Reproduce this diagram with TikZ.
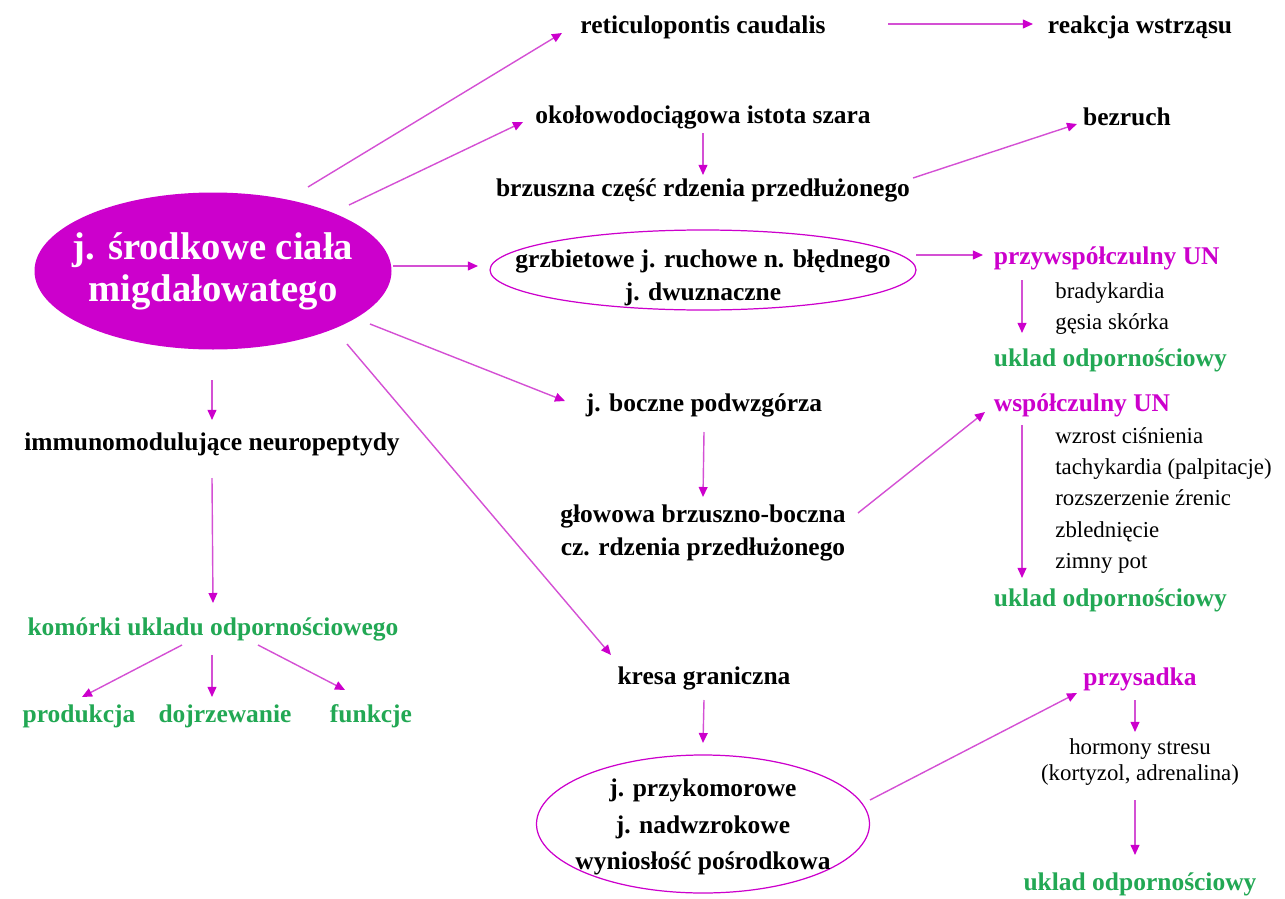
\documentclass[tikz,border=0pt]{standalone}
\usepackage{fontspec}
\setmainfont{Liberation Serif}
\usetikzlibrary{calc, positioning, arrows.meta, shapes.geometric}
\definecolor{mag}{RGB}{204,0,204}
\definecolor{magline}{RGB}{212,80,212}
\definecolor{grn}{RGB}{34,168,84}

\begin{document}
\begin{tikzpicture}[x=0.02cm, y=-0.02cm,
  lbl/.style={font=\fontsize{14.5}{18.7}\selectfont\bfseries, inner sep=2pt, align=center},
  sym/.style={font=\fontsize{13}{17.8}\selectfont, inner sep=0pt, align=left, anchor=west},
  imm/.style={lbl, text=grn},
  un/.style={lbl, text=mag},
  arr/.style={draw=magline, line width=0.8pt, -{Triangle[length=5.7pt,width=5pt,color=mag]}},
  oval/.style={draw=mag, line width=0.7pt}]
\useasboundingbox (0,0) rectangle (1285,899);

% Amygdala
\fill[mag] (213,271) ellipse [x radius=178.5, y radius=78.5];
\node[text=white, align=center, font=\fontsize{22}{24}\selectfont\bfseries]
  (amyg) at (213,271) {j. środkowe ciała\\migdałowatego};

% Top branches
\node[lbl] (reti) at (703,27) {reticulopontis caudalis};
\node[lbl] (reak) at (1140,27) {reakcja wstrząsu};
\node[lbl] (okol) at (703,117) {okołowodociągowa istota szara};
\node[lbl] (bezr) at (1127,117) {bezruch};
\node[lbl] (brzu) at (703,190) {brzuszna część rdzenia przedłużonego};
\draw[arr] ($(amyg)+(95,-84)$) -- ($(reti)+(-141,6)$);
\draw[arr] ($(reti)+(185,-3)$) -- ($(reak)+(-107,-3)$);
\draw[arr] ($(amyg)+(136,-66)$) -- ($(okol)+(-180,5)$);
\draw[arr] ($(okol)+(0,16)$) -- ($(brzu)+(0,-15)$);
\draw[arr] ($(brzu)+(210,-12)$) -- ($(bezr)+(-50,7)$);

% Parasympathetic
\draw[oval] (703,270) ellipse [x radius=213, y radius=40];
\node[lbl] (grzb) at (703,278) {grzbietowe j. ruchowe n. błędnego\\j. dwuznaczne};
\node[un, anchor=west] (przy) at (990,258) {przywspółczulny UN};
\node[sym] (objp) at (1055,308.5) {bradykardia\\gęsia skórka};
\node[imm, anchor=west] (ukl1) at (990,360) {uklad odpornościowy};
\draw[arr] ($(amyg)+(180,-5)$) -- ($(grzb)+(-225,-12)$);
\draw[arr] ($(grzb)+(213,-23)$) -- ($(przy.west)+(-7,-3)$);
\draw[arr] ($(przy.west)+(32,22)$) -- ($(ukl1.west)+(32,-27)$);

% Sympathetic
\node[lbl] (bocz) at (704,405) {j. boczne podwzgórza};
\node[lbl] (glow) at (703,533) {głowowa brzuszno-boczna\\cz. rdzenia przedłużonego};
\node[un, anchor=west] (wsp) at (990,405) {współczulny UN};
\node[sym] (objw) at (1055,500.5) {wzrost ciśnienia\\tachykardia (palpitacje)\\rozszerzenie źrenic\\zblednięcie\\zimny pot};
\node[imm, anchor=west] (ukl2) at (990,600) {uklad odpornościowy};
\draw[arr] ($(amyg)+(157,53)$) -- ($(bocz)+(-139,-4)$);
\draw[arr] ($(bocz)+(0,27)$) -- ($(glow)+(0,-36)$);
\draw[arr] ($(glow)+(155,-20)$) -- ($(wsp.west)+(-5,7)$);
\draw[arr] ($(wsp.west)+(32,20)$) -- ($(ukl2.west)+(32,-22)$);

% Hypothalamus - pituitary
\node[lbl] (kres) at (704,678) {kresa graniczna};
\draw[oval] (703,824) ellipse [x radius=166.5, y radius=69];
\node[lbl, font=\fontsize{14.5}{21}\selectfont\bfseries] (pvn) at (703,827)
  {j. przykomorowe\\j. nadwzrokowe\\wyniosłość pośrodkowa};
\node[un] (przs) at (1140,679) {przysadka};
\node[align=center, inner sep=0pt, font=\fontsize{13}{14.7}\selectfont] (horm) at (1140,762)
  {hormony stresu\\(kortyzol, adrenalina)};
\node[imm] (ukl3) at (1140,884) {uklad odpornościowy};
\draw[arr] ($(amyg)+(134,73)$) -- ($(kres)+(-93,-23)$);
\draw[arr] ($(kres)+(0,22)$) -- ($(pvn)+(0,-84)$);
\draw[arr] ($(pvn)+(167,-27)$) -- ($(przs)+(-63,14)$);
\draw[arr] ($(przs)+(-5,21)$) -- ($(horm)+(-5,-30)$);
\draw[arr] ($(horm)+(-5,38)$) -- ($(ukl3)+(-5,-29)$);

% Immune branch
\node[lbl] (immu) at (212,444) {immunomodulujące neuropeptydy};
\node[imm] (kom) at (213,629) {komórki ukladu odpornościowego};
\node[imm] (prod) at (79,716) {produkcja};
\node[imm] (dojr) at (225,716) {dojrzewanie};
\node[imm] (funk) at (371,716) {funkcje};
\draw[arr] ($(amyg)+(-1,109)$) -- ($(immu)+(0,-24)$);
\draw[arr] ($(immu)+(0,34)$) -- ($(kom)+(0,-26)$);
\draw[arr] ($(kom)+(-31,16)$) -- ($(prod)+(3,-19)$);
\draw[arr] ($(kom)+(-1,26)$) -- ($(dojr)+(-13,-19)$);
\draw[arr] ($(kom)+(45,16)$) -- ($(funk)+(-26,-26)$);
\end{tikzpicture}
\end{document}
